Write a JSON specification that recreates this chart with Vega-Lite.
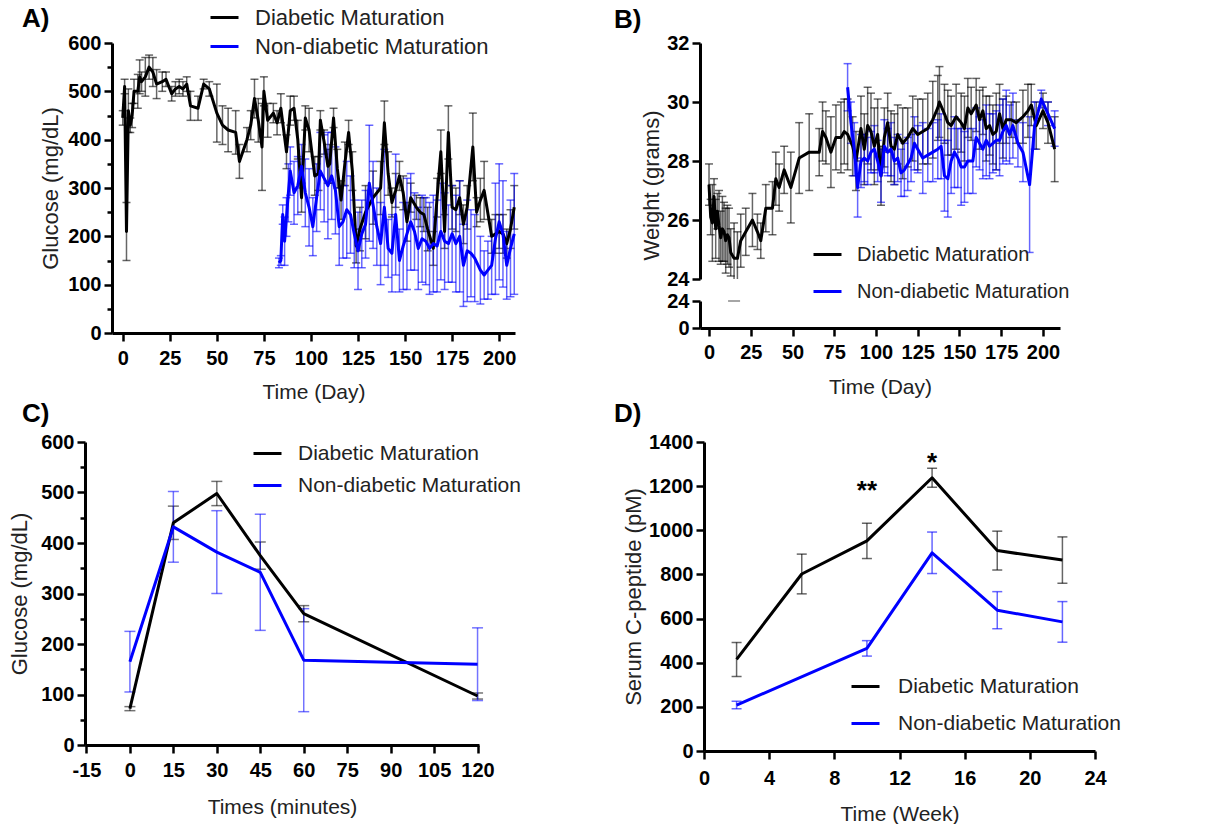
{
  "$schema": "https://vega.github.io/schema/vega-lite/v6.json",
  "padding": {"left": 8, "top": 2, "right": 0, "bottom": 0},
  "config": {
    "view": {"stroke": null},
    "font": "Liberation Sans",
    "axis": {
      "domainColor": "#000", "domainWidth": 3, "tickColor": "#000", "tickWidth": 2.5, "tickSize": 8,
      "labelFont": "Liberation Sans", "labelFontSize": 20, "labelFontWeight": "bold", "labelColor": "#000", "labelPadding": 3,
      "titleFont": "Liberation Sans", "titleFontSize": 21, "titleFontWeight": "normal", "titleColor": "#222",
      "grid": false, "labelFlush": false, "labelOverlap": false, "labelExpr": "toString(datum.value)"
    },
    "axisY": {"titleFontSize": 22},
    "legend": {
      "labelFont": "Liberation Sans", "labelFontSize": 21, "labelColor": "#222", "symbolType": "stroke",
      "symbolSize": 784, "symbolStrokeWidth": 3, "symbolOpacity": 1, "padding": 0, "labelLimit": 400
    },
    "title": {"font": "Liberation Sans", "fontSize": 26, "fontWeight": "bold", "color": "#000", "anchor": "start", "frame": "group"}
  },
  "datasets": {
    "A": [
      {"d":0,"g":"D","m":445,"e":15},{"d":1,"g":"D","m":510,"e":15},{"d":2,"g":"D","m":210,"e":60},{"d":3,"g":"D","m":460,"e":45},
      {"d":4,"g":"D","m":430,"e":15},{"d":5,"g":"D","m":450,"e":25},{"d":6,"g":"D","m":500,"e":25},{"d":8,"g":"D","m":500,"e":35},
      {"d":9,"g":"D","m":530,"e":35},{"d":10,"g":"D","m":520,"e":20},{"d":12,"g":"D","m":530,"e":40},{"d":14,"g":"D","m":550,"e":25},
      {"d":16,"g":"D","m":540,"e":30},{"d":18,"g":"D","m":515,"e":30},{"d":21,"g":"D","m":520,"e":20},{"d":23,"g":"D","m":525,"e":15},
      {"d":26,"g":"D","m":495,"e":15},{"d":28,"g":"D","m":505,"e":15},{"d":30,"g":"D","m":510,"e":15},{"d":32,"g":"D","m":505,"e":15},
      {"d":34,"g":"D","m":515,"e":15},{"d":36,"g":"D","m":470,"e":30},{"d":40,"g":"D","m":465,"e":25},{"d":43,"g":"D","m":515,"e":10},
      {"d":46,"g":"D","m":505,"e":15},{"d":50,"g":"D","m":455,"e":60},{"d":53,"g":"D","m":430,"e":40},{"d":56,"g":"D","m":420,"e":45},
      {"d":60,"g":"D","m":415,"e":45},{"d":62,"g":"D","m":355,"e":35},{"d":66,"g":"D","m":400,"e":25},{"d":68,"g":"D","m":430,"e":30},
      {"d":70,"g":"D","m":485,"e":40},{"d":72,"g":"D","m":440,"e":45},{"d":74,"g":"D","m":385,"e":90},{"d":75,"g":"D","m":500,"e":30},
      {"d":77,"g":"D","m":440,"e":35},{"d":80,"g":"D","m":455,"e":20},{"d":82,"g":"D","m":435,"e":25},{"d":84,"g":"D","m":465,"e":30},
      {"d":87,"g":"D","m":375,"e":35},{"d":89,"g":"D","m":460,"e":30},{"d":91,"g":"D","m":465,"e":25},{"d":93,"g":"D","m":400,"e":40},
      {"d":95,"g":"D","m":280,"e":30},{"d":97,"g":"D","m":445,"e":25},{"d":99,"g":"D","m":420,"e":45},{"d":102,"g":"D","m":325,"e":40},
      {"d":104,"g":"D","m":330,"e":35},{"d":105,"g":"D","m":440,"e":20},{"d":107,"g":"D","m":395,"e":25},{"d":109,"g":"D","m":345,"e":35},
      {"d":110,"g":"D","m":350,"e":40},{"d":112,"g":"D","m":445,"e":20},{"d":114,"g":"D","m":340,"e":40},{"d":116,"g":"D","m":275,"e":40},
      {"d":118,"g":"D","m":350,"e":45},{"d":120,"g":"D","m":415,"e":25},{"d":122,"g":"D","m":335,"e":40},{"d":124,"g":"D","m":180,"e":35},
      {"d":126,"g":"D","m":215,"e":45},{"d":129,"g":"D","m":250,"e":55},{"d":133,"g":"D","m":280,"e":55},{"d":137,"g":"D","m":300,"e":55},
      {"d":139,"g":"D","m":435,"e":45},{"d":141,"g":"D","m":330,"e":45},{"d":143,"g":"D","m":270,"e":30},{"d":145,"g":"D","m":295,"e":35},
      {"d":147,"g":"D","m":325,"e":30},{"d":149,"g":"D","m":290,"e":35},{"d":151,"g":"D","m":230,"e":40},{"d":153,"g":"D","m":280,"e":30},
      {"d":156,"g":"D","m":260,"e":25},{"d":158,"g":"D","m":250,"e":30},{"d":160,"g":"D","m":245,"e":35},{"d":162,"g":"D","m":215,"e":45},
      {"d":165,"g":"D","m":175,"e":35},{"d":167,"g":"D","m":280,"e":40},{"d":169,"g":"D","m":375,"e":45},{"d":171,"g":"D","m":210,"e":35},
      {"d":173,"g":"D","m":415,"e":55},{"d":175,"g":"D","m":260,"e":45},{"d":177,"g":"D","m":255,"e":45},{"d":179,"g":"D","m":280,"e":35},
      {"d":181,"g":"D","m":225,"e":40},{"d":183,"g":"D","m":260,"e":45},{"d":186,"g":"D","m":385,"e":70},{"d":188,"g":"D","m":250,"e":30},
      {"d":190,"g":"D","m":275,"e":45},{"d":192,"g":"D","m":295,"e":60},{"d":196,"g":"D","m":200,"e":35},{"d":198,"g":"D","m":205,"e":40},
      {"d":200,"g":"D","m":210,"e":35},{"d":202,"g":"D","m":205,"e":40},{"d":204,"g":"D","m":185,"e":30},{"d":206,"g":"D","m":215,"e":40},
      {"d":208,"g":"D","m":260,"e":45},
      {"d":83,"g":"N","m":145,"e":10},{"d":84,"g":"N","m":150,"e":10},{"d":85,"g":"N","m":245,"e":20},{"d":86,"g":"N","m":190,"e":50},
      {"d":87,"g":"N","m":240,"e":40},{"d":88,"g":"N","m":290,"e":60},{"d":89,"g":"N","m":335,"e":50},{"d":91,"g":"N","m":290,"e":65},
      {"d":93,"g":"N","m":305,"e":60},{"d":95,"g":"N","m":345,"e":45},{"d":97,"g":"N","m":290,"e":70},{"d":99,"g":"N","m":260,"e":80},
      {"d":101,"g":"N","m":220,"e":60},{"d":103,"g":"N","m":280,"e":70},{"d":105,"g":"N","m":335,"e":80},{"d":107,"g":"N","m":320,"e":90},
      {"d":109,"g":"N","m":305,"e":110},{"d":111,"g":"N","m":325,"e":90},{"d":113,"g":"N","m":295,"e":90},{"d":115,"g":"N","m":220,"e":80},
      {"d":117,"g":"N","m":230,"e":75},{"d":119,"g":"N","m":255,"e":100},{"d":121,"g":"N","m":245,"e":80},{"d":123,"g":"N","m":205,"e":70},
      {"d":125,"g":"N","m":170,"e":80},{"d":127,"g":"N","m":205,"e":70},{"d":129,"g":"N","m":225,"e":70},{"d":131,"g":"N","m":310,"e":120},
      {"d":133,"g":"N","m":265,"e":90},{"d":135,"g":"N","m":220,"e":80},{"d":137,"g":"N","m":185,"e":85},{"d":139,"g":"N","m":260,"e":120},
      {"d":141,"g":"N","m":175,"e":60},{"d":143,"g":"N","m":165,"e":80},{"d":145,"g":"N","m":245,"e":125},{"d":147,"g":"N","m":150,"e":65},
      {"d":149,"g":"N","m":180,"e":90},{"d":151,"g":"N","m":205,"e":115},{"d":153,"g":"N","m":230,"e":100},{"d":155,"g":"N","m":210,"e":80},
      {"d":157,"g":"N","m":175,"e":85},{"d":159,"g":"N","m":195,"e":90},{"d":161,"g":"N","m":190,"e":90},{"d":163,"g":"N","m":175,"e":95},
      {"d":165,"g":"N","m":185,"e":100},{"d":167,"g":"N","m":180,"e":95},{"d":169,"g":"N","m":210,"e":100},{"d":171,"g":"N","m":190,"e":100},
      {"d":173,"g":"N","m":185,"e":80},{"d":175,"g":"N","m":205,"e":100},{"d":177,"g":"N","m":185,"e":100},{"d":179,"g":"N","m":200,"e":115},
      {"d":181,"g":"N","m":140,"e":85},{"d":183,"g":"N","m":170,"e":105},{"d":185,"g":"N","m":165,"e":90},{"d":187,"g":"N","m":155,"e":90},
      {"d":190,"g":"N","m":130,"e":70},{"d":192,"g":"N","m":120,"e":50},{"d":194,"g":"N","m":130,"e":60},{"d":196,"g":"N","m":140,"e":60},
      {"d":198,"g":"N","m":195,"e":115},{"d":200,"g":"N","m":230,"e":120},{"d":202,"g":"N","m":205,"e":110},{"d":204,"g":"N","m":140,"e":70},
      {"d":206,"g":"N","m":175,"e":100},{"d":208,"g":"N","m":205,"e":125}
    ],
    "B": [
      {"d":0,"g":"D","m":27.2,"e":0.7},{"d":1,"g":"D","m":26.1,"e":0.6},{"d":2,"g":"D","m":25.9,"e":1.3},{"d":3,"g":"D","m":26.8,"e":0.6},
      {"d":4,"g":"D","m":25.7,"e":1.0},{"d":5,"g":"D","m":26.3,"e":0.6},{"d":6,"g":"D","m":25.8,"e":1.2},{"d":7,"g":"D","m":25.4,"e":0.9},
      {"d":8,"g":"D","m":25.7,"e":1.1},{"d":9,"g":"D","m":25.6,"e":1.0},{"d":10,"g":"D","m":25.3,"e":1.1},{"d":11,"g":"D","m":25.5,"e":1.0},
      {"d":12,"g":"D","m":25.4,"e":1.0},{"d":13,"g":"D","m":24.9,"e":0.8},{"d":15,"g":"D","m":24.7,"e":1.2},{"d":17,"g":"D","m":24.7,"e":0.9},
      {"d":19,"g":"D","m":25.3,"e":0.9},{"d":22,"g":"D","m":25.6,"e":0.8},{"d":26,"g":"D","m":26.0,"e":0.9},{"d":29,"g":"D","m":25.6,"e":0.6},
      {"d":31,"g":"D","m":25.3,"e":0.6},{"d":34,"g":"D","m":26.4,"e":0.8},{"d":38,"g":"D","m":26.4,"e":0.9},{"d":40,"g":"D","m":27.4,"e":0.9},
      {"d":42,"g":"D","m":27.1,"e":0.8},{"d":45,"g":"D","m":27.7,"e":0.8},{"d":49,"g":"D","m":27.1,"e":1.2},{"d":54,"g":"D","m":28.1,"e":1.2},
      {"d":60,"g":"D","m":28.3,"e":1.3},{"d":66,"g":"D","m":28.3,"e":0.8},{"d":68,"g":"D","m":29.0,"e":1.0},{"d":70,"g":"D","m":28.8,"e":0.9},
      {"d":73,"g":"D","m":28.3,"e":1.2},{"d":76,"g":"D","m":28.8,"e":1.1},{"d":79,"g":"D","m":28.8,"e":1.2},{"d":81,"g":"D","m":29.0,"e":1.1},
      {"d":83,"g":"D","m":28.9,"e":1.2},{"d":86,"g":"D","m":28.5,"e":1.0},{"d":88,"g":"D","m":28.0,"e":1.0},{"d":91,"g":"D","m":29.1,"e":1.1},
      {"d":93,"g":"D","m":28.4,"e":1.2},{"d":95,"g":"D","m":29.2,"e":1.3},{"d":97,"g":"D","m":29.0,"e":1.3},{"d":99,"g":"D","m":28.5,"e":1.3},
      {"d":101,"g":"D","m":28.9,"e":1.2},{"d":103,"g":"D","m":27.5,"e":1.0},{"d":105,"g":"D","m":28.8,"e":1.0},{"d":107,"g":"D","m":29.3,"e":1.0},
      {"d":109,"g":"D","m":28.5,"e":1.2},{"d":111,"g":"D","m":28.4,"e":1.2},{"d":113,"g":"D","m":28.9,"e":1.0},{"d":116,"g":"D","m":28.6,"e":1.2},
      {"d":119,"g":"D","m":28.8,"e":1.0},{"d":122,"g":"D","m":29.1,"e":1.1},{"d":125,"g":"D","m":28.9,"e":1.2},{"d":128,"g":"D","m":29.0,"e":1.1},
      {"d":131,"g":"D","m":29.1,"e":1.2},{"d":134,"g":"D","m":29.4,"e":1.3},{"d":137,"g":"D","m":29.8,"e":1.1},{"d":138,"g":"D","m":30.0,"e":1.2},
      {"d":141,"g":"D","m":29.6,"e":1.0},{"d":143,"g":"D","m":29.3,"e":1.1},{"d":145,"g":"D","m":29.2,"e":1.0},{"d":148,"g":"D","m":29.5,"e":1.1},
      {"d":151,"g":"D","m":29.3,"e":1.0},{"d":153,"g":"D","m":29.1,"e":1.1},{"d":155,"g":"D","m":29.8,"e":1.0},{"d":157,"g":"D","m":29.6,"e":0.9},
      {"d":160,"g":"D","m":29.9,"e":0.9},{"d":162,"g":"D","m":29.4,"e":1.0},{"d":164,"g":"D","m":29.7,"e":0.8},{"d":166,"g":"D","m":29.1,"e":1.1},
      {"d":168,"g":"D","m":29.2,"e":1.0},{"d":170,"g":"D","m":28.9,"e":1.0},{"d":172,"g":"D","m":29.0,"e":1.3},{"d":174,"g":"D","m":29.6,"e":1.0},
      {"d":176,"g":"D","m":29.1,"e":1.0},{"d":178,"g":"D","m":29.4,"e":0.8},{"d":181,"g":"D","m":29.4,"e":0.6},{"d":184,"g":"D","m":29.3,"e":0.7},
      {"d":188,"g":"D","m":29.5,"e":0.9},{"d":191,"g":"D","m":29.7,"e":0.9},{"d":193,"g":"D","m":29.9,"e":0.7},{"d":196,"g":"D","m":29.2,"e":0.8},
      {"d":200,"g":"D","m":29.7,"e":0.6},{"d":203,"g":"D","m":29.3,"e":0.7},{"d":207,"g":"D","m":28.4,"e":1.1},
      {"d":83,"g":"N","m":30.5,"e":0.8},{"d":85,"g":"N","m":29.3,"e":0.7},{"d":87,"g":"N","m":28.4,"e":0.9},{"d":89,"g":"N","m":27.1,"e":1.0},
      {"d":91,"g":"N","m":28.0,"e":0.9},{"d":93,"g":"N","m":28.1,"e":0.8},{"d":95,"g":"N","m":28.0,"e":0.8},{"d":97,"g":"N","m":28.3,"e":0.7},
      {"d":99,"g":"N","m":28.4,"e":0.8},{"d":101,"g":"N","m":28.0,"e":0.7},{"d":103,"g":"N","m":27.5,"e":0.9},{"d":105,"g":"N","m":28.5,"e":0.9},
      {"d":107,"g":"N","m":28.3,"e":0.8},{"d":109,"g":"N","m":28.4,"e":0.9},{"d":111,"g":"N","m":28.0,"e":0.8},{"d":113,"g":"N","m":28.1,"e":0.8},
      {"d":115,"g":"N","m":27.6,"e":0.8},{"d":117,"g":"N","m":27.7,"e":0.9},{"d":119,"g":"N","m":27.9,"e":0.9},{"d":121,"g":"N","m":28.1,"e":0.8},
      {"d":123,"g":"N","m":28.6,"e":0.9},{"d":125,"g":"N","m":28.4,"e":0.8},{"d":128,"g":"N","m":28.1,"e":1.2},{"d":131,"g":"N","m":28.2,"e":0.9},
      {"d":134,"g":"N","m":28.3,"e":1.0},{"d":137,"g":"N","m":28.4,"e":1.0},{"d":139,"g":"N","m":28.5,"e":1.1},{"d":141,"g":"N","m":27.5,"e":1.2},
      {"d":143,"g":"N","m":27.4,"e":1.3},{"d":145,"g":"N","m":28.0,"e":1.1},{"d":147,"g":"N","m":28.3,"e":1.2},{"d":149,"g":"N","m":28.1,"e":1.0},
      {"d":151,"g":"N","m":27.8,"e":1.3},{"d":153,"g":"N","m":27.8,"e":1.2},{"d":155,"g":"N","m":28.0,"e":1.1},{"d":158,"g":"N","m":28.0,"e":1.1},
      {"d":160,"g":"N","m":28.8,"e":1.0},{"d":162,"g":"N","m":28.6,"e":0.9},{"d":164,"g":"N","m":28.4,"e":1.0},{"d":166,"g":"N","m":28.7,"e":1.2},
      {"d":168,"g":"N","m":28.5,"e":1.1},{"d":170,"g":"N","m":28.6,"e":1.0},{"d":172,"g":"N","m":28.7,"e":1.0},{"d":174,"g":"N","m":28.7,"e":1.2},
      {"d":176,"g":"N","m":29.0,"e":1.1},{"d":178,"g":"N","m":29.2,"e":1.2},{"d":180,"g":"N","m":28.9,"e":1.0},{"d":182,"g":"N","m":29.2,"e":1.1},
      {"d":185,"g":"N","m":28.6,"e":0.8},{"d":188,"g":"N","m":28.3,"e":1.0},{"d":192,"g":"N","m":27.2,"e":2.3},{"d":195,"g":"N","m":29.2,"e":0.8},
      {"d":199,"g":"N","m":30.1,"e":0.3},{"d":203,"g":"N","m":29.6,"e":0.4},{"d":207,"g":"N","m":29.1,"e":0.6}
    ],
    "Bcap": [{"d":15,"w":24}],
    "C": [
      {"t":0,"g":"D","m":72,"e":4},{"t":15,"g":"D","m":440,"e":33},{"t":30,"g":"D","m":498,"e":24},
      {"t":45,"g":"D","m":375,"e":27},{"t":60,"g":"D","m":260,"e":16},{"t":120,"g":"D","m":97,"e":6},
      {"t":0,"g":"N","m":165,"e":60},{"t":15,"g":"N","m":432,"e":70},{"t":30,"g":"N","m":382,"e":82},
      {"t":45,"g":"N","m":342,"e":115},{"t":60,"g":"N","m":168,"e":102},{"t":120,"g":"N","m":160,"e":72}
    ],
    "D": [
      {"w":2,"g":"D","m":415,"e":77},{"w":6,"g":"D","m":802,"e":90},{"w":10,"g":"D","m":952,"e":80},
      {"w":14,"g":"D","m":1238,"e":43},{"w":18,"g":"D","m":908,"e":88},{"w":22,"g":"D","m":865,"e":105},
      {"w":2,"g":"N","m":208,"e":17},{"w":10,"g":"N","m":465,"e":35},{"w":14,"g":"N","m":898,"e":94},
      {"w":18,"g":"N","m":638,"e":84},{"w":22,"g":"N","m":585,"e":92}
    ],
    "Dstars": [{"w":10,"v":1180,"s":"**"},{"w":14,"v":1305,"s":"*"}]
  },
  "vconcat": [
    {
      "hconcat": [
        {
          "hconcat": [
            {"width": 27, "height": 10, "data": {"values": [{"a": 1}]}, "mark": {"type": "point", "opacity": 0}, "encoding": {}},
            {
              "width": 403, "height": 290,
              "title": {"text": "A)", "dx": -90, "offset": 0, "dy": 30},
              "data": {"name": "A"},
              "layer": [
                {
                  "mark": {"type": "errorbar", "ticks": {"size": 8}, "thickness": 1.5, "opacity": 0.6},
                  "encoding": {
                    "x": {"field": "d", "type": "quantitative", "scale": {"domain": [-5.7, 208.4], "nice": false, "zero": false},
                          "axis": {"values": [0,25,50,75,100,125,150,175,200], "title": "Time (Day)", "labelPadding": 7, "titlePadding": 13}},
                    "y": {"field": "m", "type": "quantitative", "scale": {"domain": [0, 600], "nice": false},
                          "axis": {"orient": "left", "values": [0,100,200,300,400,500,600], "title": "Glucose (mg/dL)", "titlePadding": 5}},
                    "yError": {"field": "e"},
                    "color": {"field": "g", "type": "nominal", "scale": {"domain": ["D","N"], "range": ["#000000","#0000ff"]},
                              "legend": {"orient": "none", "legendX": 97, "legendY": -41, "rowPadding": 2, "labelOffset": 15, "title": null,
                                         "labelFontSize": 22, "symbolType": "stroke",
                                         "labelExpr": "datum.value == 'D' ? 'Diabetic Maturation' : 'Non-diabetic Maturation'"}}
                  }
                },
                {
                  "mark": {"type": "line", "strokeWidth": 3, "strokeJoin": "round"},
                  "encoding": {
                    "x": {"field": "d", "type": "quantitative", "scale": {"domain": [-5.7, 208.4], "nice": false, "zero": false},
                          "axis": {"values": [0,25,50,75,100,125,150,175,200], "title": "Time (Day)", "labelPadding": 7, "titlePadding": 13}},
                    "y": {"field": "m", "type": "quantitative",
                          "axis": {"orient": "left", "values": [50,150,250,350,450,550], "labels": false, "domain": false, "tickSize": 5, "title": null}},
                    "color": {"field": "g", "type": "nominal", "scale": {"domain": ["D","N"], "range": ["#000000","#0000ff"]},
                              "legend": {"orient": "none", "legendX": 97, "legendY": -41, "rowPadding": 2, "labelOffset": 15, "title": null,
                                         "labelFontSize": 22, "symbolType": "stroke",
                                         "labelExpr": "datum.value == 'D' ? 'Diabetic Maturation' : 'Non-diabetic Maturation'"}}
                  }
                }
              ],
              "resolve": {"axis": {"y": "independent"}}
            }
          ],
          "spacing": 0,
          "bounds": "flush",
          "resolve": {"scale": {"color": "independent"}, "legend": {"color": "independent"}}
        },
        {
          "vconcat": [
            {
              "width": 360, "height": 236,
              "title": {"text": "B)", "dx": -86, "offset": 0},
              "data": {"name": "B"},
              "layer": [
                {
                  "mark": {"type": "errorbar", "ticks": {"size": 8}, "thickness": 1.5, "opacity": 0.6, "clip": true},
                  "encoding": {
                    "x": {"field": "d", "type": "quantitative", "scale": {"domain": [-5.4, 210.2], "nice": false, "zero": false}, "axis": null},
                    "y": {"field": "m", "type": "quantitative", "scale": {"domain": [24, 32], "nice": false, "zero": false},
                          "axis": {"values": [24,26,28,30,32], "title": "Weight (grams)", "titlePadding": 3, "titleY": 142}},
                    "yError": {"field": "e"},
                    "color": {"field": "g", "type": "nominal", "scale": {"domain": ["D","N"], "range": ["#000000","#0000ff"]},
                              "legend": {"orient": "none", "legendX": 112, "legendY": 196, "rowPadding": 11, "labelOffset": 14, "title": null,
                                         "labelFontSize": 20, "symbolType": "stroke",
                                         "labelExpr": "datum.value == 'D' ? 'Diabetic Maturation' : 'Non-diabetic Maturation'"}}
                  }
                },
                {
                  "mark": {"type": "line", "strokeWidth": 3, "strokeJoin": "round", "clip": true},
                  "encoding": {
                    "x": {"field": "d", "type": "quantitative", "scale": {"domain": [-5.4, 210.2], "nice": false, "zero": false}, "axis": null},
                    "y": {"field": "m", "type": "quantitative", "scale": {"domain": [24, 32], "nice": false, "zero": false},
                          "axis": {"values": [24,26,28,30,32], "title": "Weight (grams)", "titlePadding": 3, "titleY": 142}},
                    "color": {"field": "g", "type": "nominal", "scale": {"domain": ["D","N"], "range": ["#000000","#0000ff"]},
                              "legend": {"orient": "none", "legendX": 112, "legendY": 196, "rowPadding": 11, "labelOffset": 14, "title": null,
                                         "labelFontSize": 20, "symbolType": "stroke",
                                         "labelExpr": "datum.value == 'D' ? 'Diabetic Maturation' : 'Non-diabetic Maturation'"}}
                  }
                }
              ]
            },
            {
              "width": 360, "height": 27,
              "data": {"name": "Bcap"},
              "mark": {"type": "tick", "orient": "horizontal", "size": 12, "thickness": 1.5, "color": "#555"},
              "encoding": {
                "x": {"field": "d", "type": "quantitative", "scale": {"domain": [-5.4, 210.2], "nice": false, "zero": false},
                      "axis": {"values": [0,25,50,75,100,125,150,175,200], "title": "Time (Day)", "labelPadding": 6, "titlePadding": 14}},
                "y": {"field": "w", "type": "quantitative", "scale": {"domain": [0, 24], "nice": false},
                      "axis": {"values": [0, 24], "title": null}}
              }
            }
          ],
          "spacing": 22,
          "bounds": "flush",
          "resolve": {"scale": {"color": "independent"}, "legend": {"color": "independent"}}
        }
      ],
      "spacing": 615,
      "bounds": "flush",
      "resolve": {"scale": {"color": "independent"}, "legend": {"color": "independent"}}
    },
    {
      "hconcat": [
        {
          "width": 394, "height": 303,
          "title": {"text": "C)", "dx": -63, "offset": 5},
          "data": {"name": "C"},
          "layer": [
            {
              "mark": {"type": "errorbar", "ticks": {"size": 11}, "thickness": 1.5, "opacity": 0.55},
              "encoding": {
                "x": {"field": "t", "type": "quantitative", "scale": {"domain": [-15.5, 120.5], "nice": false, "zero": false},
                      "axis": {"values": [-15,0,15,30,45,60,75,90,105,120], "title": "Times (minutes)", "labelPadding": 7, "titlePadding": 16}},
                "y": {"field": "m", "type": "quantitative", "scale": {"domain": [0, 600], "nice": false},
                      "axis": {"orient": "left", "values": [0,100,200,300,400,500,600], "title": "Glucose (mg/dL)", "titlePadding": 9}},
                "yError": {"field": "e"},
                "color": {"field": "g", "type": "nominal", "scale": {"domain": ["D","N"], "range": ["#000000","#0000ff"]},
                          "legend": {"orient": "none", "legendX": 167, "legendY": -4, "rowPadding": 6, "labelOffset": 15, "title": null,
                                     "labelFontSize": 21, "symbolType": "stroke",
                                     "labelExpr": "datum.value == 'D' ? 'Diabetic Maturation' : 'Non-diabetic Maturation'"}}
              }
            },
            {
              "mark": {"type": "line", "strokeWidth": 3, "strokeJoin": "round"},
              "encoding": {
                "x": {"field": "t", "type": "quantitative", "scale": {"domain": [-15.5, 120.5], "nice": false, "zero": false},
                      "axis": {"values": [-15,0,15,30,45,60,75,90,105,120], "title": "Times (minutes)", "labelPadding": 7, "titlePadding": 16}},
                "y": {"field": "m", "type": "quantitative",
                      "axis": {"orient": "left", "values": [50,150,250,350,450,550], "labels": false, "domain": false, "tickSize": 5, "title": null}},
                "color": {"field": "g", "type": "nominal", "scale": {"domain": ["D","N"], "range": ["#000000","#0000ff"]},
                          "legend": {"orient": "none", "legendX": 167, "legendY": -4, "rowPadding": 6, "labelOffset": 15, "title": null,
                                     "labelFontSize": 21, "symbolType": "stroke",
                                     "labelExpr": "datum.value == 'D' ? 'Diabetic Maturation' : 'Non-diabetic Maturation'"}}
              }
            }
          ],
          "resolve": {"axis": {"y": "independent"}}
        },
        {
          "width": 391, "height": 309,
          "title": {"text": "D)", "dx": -90, "offset": 5},
          "layer": [
            {
              "data": {"name": "D"},
              "mark": {"type": "errorbar", "ticks": {"size": 10}, "thickness": 1.5, "opacity": 0.6},
              "encoding": {
                "x": {"field": "w", "type": "quantitative", "scale": {"domain": [0, 24], "nice": false},
                      "axis": {"values": [0,4,8,12,16,20,24], "title": "Time (Week)", "labelPadding": 9, "titlePadding": 15}},
                "y": {"field": "m", "type": "quantitative", "scale": {"domain": [0, 1400], "nice": false},
                      "axis": {"values": [0,200,400,600,800,1000,1200,1400], "title": "Serum C-peptide (pM)", "titlePadding": 3}},
                "yError": {"field": "e"},
                "color": {"field": "g", "type": "nominal", "scale": {"domain": ["D","N"], "range": ["#000000","#0000ff"]},
                          "legend": {"orient": "none", "legendX": 146, "legendY": 229, "rowPadding": 11, "labelOffset": 17, "title": null,
                                     "labelFontSize": 21, "symbolType": "stroke",
                                     "labelExpr": "datum.value == 'D' ? 'Diabetic Maturation' : 'Non-diabetic Maturation'"}}
              }
            },
            {
              "data": {"name": "D"},
              "mark": {"type": "line", "strokeWidth": 3, "strokeJoin": "round"},
              "encoding": {
                "x": {"field": "w", "type": "quantitative"},
                "y": {"field": "m", "type": "quantitative"},
                "color": {"field": "g", "type": "nominal", "scale": {"domain": ["D","N"], "range": ["#000000","#0000ff"]},
                          "legend": {"orient": "none", "legendX": 146, "legendY": 229, "rowPadding": 11, "labelOffset": 17, "title": null,
                                     "labelFontSize": 21, "symbolType": "stroke",
                                     "labelExpr": "datum.value == 'D' ? 'Diabetic Maturation' : 'Non-diabetic Maturation'"}}
              }
            },
            {
              "data": {"name": "Dstars"},
              "mark": {"type": "text", "fontSize": 26, "fontWeight": "bold", "baseline": "middle", "color": "#000"},
              "encoding": {
                "x": {"field": "w", "type": "quantitative"},
                "y": {"field": "v", "type": "quantitative"},
                "text": {"field": "s"}
              }
            }
          ]
        }
      ],
      "spacing": 225,
      "bounds": "flush",
      "resolve": {"scale": {"color": "independent"}, "legend": {"color": "independent"}}
    }
  ],
  "spacing": 399,
  "bounds": "flush",
  "resolve": {"scale": {"color": "independent"}, "legend": {"color": "independent"}}
}
